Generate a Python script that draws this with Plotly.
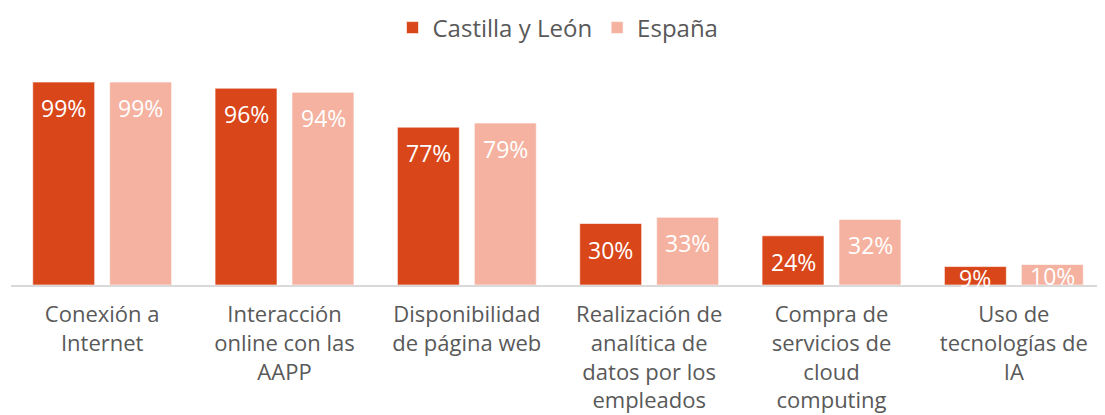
import plotly.graph_objects as go

categories = [
    "Conexión a<br>Internet",
    "Interacción<br>online con las<br>AAPP",
    "Disponibilidad<br>de página web",
    "Realización de<br>analítica de<br>datos por los<br>empleados",
    "Compra de<br>servicios de<br>cloud<br>computing",
    "Uso de<br>tecnologías de<br>IA",
]
castilla = [99, 96, 77, 30, 24, 9]
espana = [99, 94, 79, 33, 32, 10]
series_names = ["Castilla y León", "España"]
colors = ["#D9461A", "#F5B2A0"]

FONT = "Open Sans"
TEXT_GRAY = "#595959"

fig = go.Figure()
for name, vals, col in zip(series_names, [castilla, espana], colors):
    fig.add_trace(go.Bar(
        x=categories, y=vals, name=name,
        marker=dict(color=col, line=dict(color="rgba(255,255,255,0.6)", width=1)),
        hoverinfo="skip",
    ))

annotations = []
for offset, vals in [(-38.5, castilla), (38.5, espana)]:
    for c, v in zip(categories, vals):
        annotations.append(dict(
            x=c, y=v, xref="x", yref="y", xshift=offset,
            yshift=-8 if v >= 20 else 7,
            yanchor="top", text=f"{v}%", showarrow=False,
            font=dict(family=FONT, size=23, color="white"),
        ))

# the page body adds an 8px offset, margins compensate for it
fig.update_layout(
    width=1105, height=415,
    margin=dict(l=3, r=8, t=72, b=138, autoexpand=False),
    paper_bgcolor="white", plot_bgcolor="white",
    barmode="group", bargap=0.156, bargroupgap=0.195,
    font=dict(family=FONT, size=22, color=TEXT_GRAY),
    showlegend=True,
    legend=dict(orientation="h", x=0.5, xanchor="center",
                yref="container", y=1 - 20 / 415, yanchor="middle",
                font=dict(family=FONT, size=24, color=TEXT_GRAY),
                itemwidth=30, traceorder="normal"),
    annotations=annotations,
)
fig.update_xaxes(showline=True, linecolor="#D9D9D9", linewidth=2,
                 ticks="", tickfont=dict(family=FONT, size=22, color=TEXT_GRAY),
                 tickangle=0, ticklabelstandoff=9, automargin=False,
                 fixedrange=True)
fig.update_yaxes(range=[0, 100], visible=False, showgrid=False,
                 automargin=False, fixedrange=True)

fig.write_html("out.html")
